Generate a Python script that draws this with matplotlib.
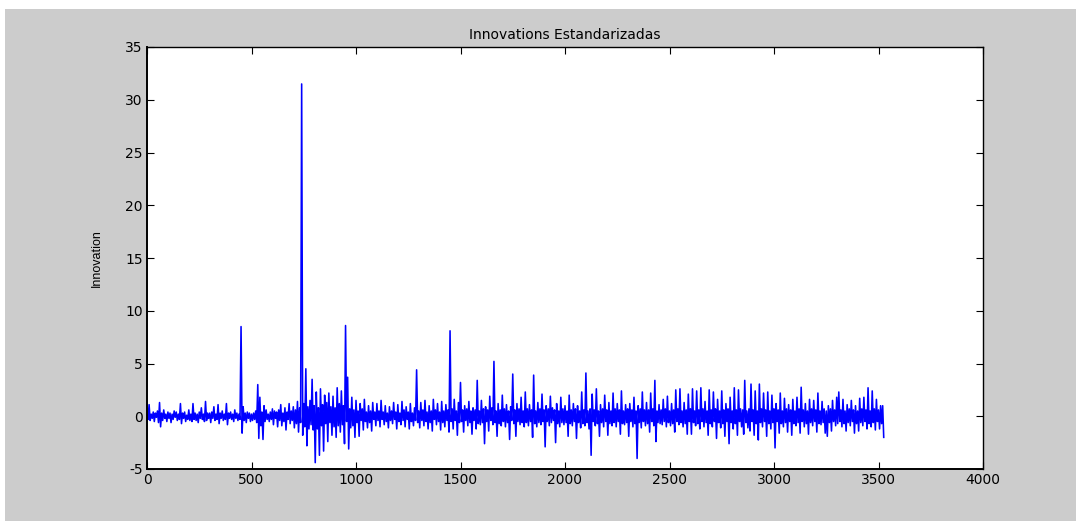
'''
innovations
-----------------------------------------------------------
standardized innovations plot (matlab look)
'''
# Load packages -------------------------------------------
import numpy as np
import matplotlib
matplotlib.use('Agg')
import matplotlib.pyplot as plt
from matplotlib.patches import Rectangle

# Data ----------------------------------------------------
# one value read every 5 observations (x = 0, 5, ... 3525)
obs_step = 5
innov = [
    0.1, -0.3, 1.1, -0.4, 0.2, -0.2, 0.4, -0.5, 0.3, -0.1, 0.5, -0.6, 1.3, -1.0, 0.3, -0.4, 0.6, -0.2, 0.2, -0.5,
    0.4, -0.2, 0.3, -0.6, 0.2, -0.3, 0.5, -0.1, 0.4, -0.4, 0.2, -0.3, 1.2, -0.7, 0.3, -0.2, 0.4, -0.5, 0.1, -0.3,
    0.6, -0.4, 0.2, -0.5, 1.2, -0.3, 0.3, -0.4, 0.2, -0.6, 0.4, -0.2, 0.8, -0.3, 0.2, -0.5, 1.4, -0.4, 0.3, -0.2,
    0.3, -0.6, 0.4, -0.2, 0.9, -0.4, 0.2, -0.3, 1.1, -0.7, 0.3, -0.2, 0.5, -0.4, 0.2, -0.3, 1.2, -0.8, 0.3, -0.2,
    0.4, -0.3, 0.2, -0.5, 0.6, -0.2, 0.3, -0.4, 0.2, -0.3, 8.5, -1.6, 0.9, -0.4, 0.3, -0.6, 0.4, -0.2, 0.3, -0.5,
    0.2, -0.4, 0.3, -0.3, 0.5, -0.6, 3.0, -2.1, 1.8, -0.9, 0.4, -2.2, 1.0, -0.5, 0.6, -0.3, 0.2, -0.5, 0.4, -0.3,
    0.7, -0.8, 0.5, -0.2, 0.4, -1.0, 0.6, -0.4, 1.1, -0.9, 0.3, -0.5, 0.8, -1.3, 0.4, -0.3, 1.2, -0.7, 0.5, -0.4,
    0.9, -1.1, 0.6, -0.7, 1.4, -1.5, 0.8, -0.6, 31.5, -1.8, 1.2, -1.0, 4.5, -2.8, 0.9, -1.2, 1.5, -0.8, 3.5, -1.3,
    1.0, -4.4, 2.3, -1.2, 0.8, -3.7, 2.6, -0.9, 1.1, -3.3, 2.0, -0.7, 1.3, -2.4, 2.2, -0.6, 0.9, -1.8, 1.9, -1.0,
    0.8, -2.0, 2.7, -0.9, 1.2, -1.5, 2.4, -0.8, 1.0, -2.6, 8.6, -0.5, 3.7, -3.1, 0.7, -1.1, 1.8, -0.9, 0.6, -2.0,
    1.5, -0.6, 0.5, -1.9, 1.2, -0.4, 0.7, -1.3, 1.6, -0.5, 0.4, -1.1, 1.0, -0.6, 0.5, -1.4, 1.3, -0.3, 0.4, -0.9,
    1.2, -0.4, 0.5, -1.0, 1.5, -0.3, 0.4, -0.8, 1.0, -0.5, 0.3, -1.1, 0.9, -0.4, 0.5, -0.7, 1.3, -0.3, 0.4, -1.2,
    1.1, -0.5, 0.3, -0.8, 1.4, -0.4, 0.6, -1.0, 0.9, -0.3, 0.4, -1.2, 1.2, -0.5, 0.3, -0.9, 0.8, -0.4, 4.4, -0.6,
    0.5, -1.1, 1.3, -0.4, 0.6, -0.9, 1.5, -0.5, 0.4, -1.2, 1.0, -0.6, 0.5, -1.4, 1.6, -0.3, 0.6, -0.8, 1.2, -0.5,
    0.4, -1.3, 1.4, -0.6, 0.5, -1.0, 1.1, -0.4, 0.6, -1.5, 8.1, -0.5, 0.7, -1.2, 1.6, -0.4, 0.5, -1.8, 1.3, -0.6,
    3.2, -0.5, 0.6, -1.5, 1.0, -0.4, 0.7, -0.9, 1.4, -0.6, 0.5, -1.7, 0.8, -0.4, 0.6, -1.2, 3.4, -0.7, 0.5, -0.8,
    1.5, -0.6, 0.7, -2.6, 0.9, -0.5, 0.6, -1.4, 1.9, -0.4, 0.8, -0.8, 5.2, -0.6, 0.5, -1.9, 1.2, -0.7, 0.6, -0.9,
    2.0, -0.5, 0.7, -1.0, 1.1, -0.6, 0.5, -2.2, 0.9, -0.4, 4.0, -0.7, 0.6, -1.9, 1.2, -0.5, 0.7, -0.8, 1.8, -0.6,
    0.5, -1.0, 2.3, -0.6, 0.7, -0.9, 1.1, -0.5, 0.6, -2.0, 3.9, -0.7, 0.5, -1.0, 1.3, -0.6, 0.7, -0.8, 2.1, -0.5,
    0.6, -2.9, 1.0, -0.5, 0.7, -0.9, 1.9, -0.6, 0.8, -0.4, 0.6, -2.5, 1.2, -0.7, 0.5, -1.0, 1.8, -0.6, 0.7, -0.8,
    1.0, -0.6, 0.5, -1.9, 2.0, -0.7, 0.6, -0.9, 1.2, -0.5, 0.7, -2.1, 1.0, -0.6, 0.5, -1.1, 2.3, -0.7, 0.6, -0.9,
    4.1, -0.6, 0.5, -1.2, 0.7, -3.7, 2.1, -0.5, 0.6, -0.9, 2.6, -0.7, 0.5, -1.9, 1.1, -0.6, 0.7, -1.0, 2.0, -0.5,
    0.6, -1.8, 1.3, -0.7, 0.5, -0.9, 2.2, -0.6, 0.7, -1.0, 1.2, -0.5, 0.6, -1.7, 2.4, -0.7, 0.5, -0.8, 1.1, -0.6,
    0.7, -1.9, 1.2, -0.5, 0.6, -1.0, 1.8, -0.7, 0.5, -4.0, 1.0, -0.6, 0.7, -1.1, 2.3, -0.5, 0.6, -0.9, 1.3, -0.7,
    0.6, -1.5, 2.2, -0.5, 0.7, -0.9, 3.4, -2.4, 0.5, -0.6, 1.1, -0.7, 0.6, -0.8, 1.6, -0.5, 0.7, -1.0, 1.9, -0.6,
    0.5, -0.9, 1.2, -0.7, 0.6, -1.5, 2.5, -0.5, 0.7, -0.8, 2.6, -0.6, 0.5, -1.0, 1.3, -0.7, 0.6, -1.7, 2.1, -0.5,
    0.7, -1.7, 2.6, -0.6, 0.5, -0.9, 2.4, -0.7, 0.6, -1.2, 2.7, -0.5, 0.7, -1.0, 1.4, -0.6, 0.5, -1.8, 2.5, -0.7,
    0.6, -1.0, 2.3, -0.5, 0.7, -2.1, 1.6, -0.6, 0.5, -1.1, 2.4, -0.7, 0.6, -1.9, 1.2, -0.5, 0.7, -2.6, 1.8, -0.6,
    0.5, -1.2, 2.7, -0.7, 0.6, -1.8, 2.5, -0.5, 0.7, -1.0, 0.6, -1.7, 3.4, -0.6, 0.5, -1.1, 0.7, -1.4, 3.05, -0.5,
    0.6, -1.8, 2.4, -0.7, 0.5, -2.25, 3.05, -0.6, 0.7, -1.0, 2.2, -0.5, 0.6, -1.9, 2.3, -0.7, 0.5, -1.2, 2.0, -0.6,
    0.7, -3.0, 1.2, -0.5, 0.6, -1.6, 2.2, -0.7, 0.5, -1.0, 1.7, -0.6, 0.7, -1.5, 1.1, -0.5, 0.6, -1.8, 1.6, -0.7,
    0.5, -0.9, 1.8, -0.6, 0.7, -1.6, 2.75, -0.5, 0.6, -1.0, 1.2, -0.7, 0.5, -1.7, 1.6, -0.6, 0.7, -0.9, 1.5, -0.5,
    0.6, -1.5, 2.2, -0.7, 0.5, -0.8, 1.4, -0.6, 0.7, -1.6, 0.5, -1.9, 1.0, -0.6, 0.7, -1.4, 1.5, -0.5, 0.6, -0.9,
    1.8, -0.7, 2.3, -0.5, 0.6, -1.0, 1.6, -0.7, 0.5, -1.4, 1.1, -0.6, 0.7, -0.9, 1.5, -0.5, 0.6, -1.6, 1.0, -0.7,
    0.5, -1.4, 1.7, -0.6, 0.7, -0.9, 1.8, -0.5, 0.6, -1.2, 2.7, -0.7, 0.5, -1.0, 2.4, -0.6, 0.7, -1.3, 1.6, -0.5,
    0.6, -1.2, 1.0, -0.7, 1.0, -2.0,
]

x_ticks = [0, 500, 1000, 1500, 2000, 2500, 3000, 3500, 4000]
y_ticks = [-5, 0, 5, 10, 15, 20, 25, 30, 35]

# Plot ----------------------------------------------------
plt.rcParams['font.family'] = ['DejaVu Sans']
plt.rcParams['axes.unicode_minus'] = False

fig = plt.figure(figsize=(10.76, 5.21), dpi=100, facecolor='white')

# gray matlab background, with thin white margin top/left
fig.patches.append(Rectangle((5 / 1076, 0), 1, 1 - 9 / 521,
                             transform=fig.transFigure,
                             facecolor='#cccccc', edgecolor='none',
                             zorder=-10))

ax = fig.add_axes([147 / 1076, 1 - 469 / 521,
                   (983 - 147) / 1076, (469 - 47) / 521])
ax.set_facecolor('white')

x = np.arange(len(innov)) * obs_step
ax.plot(x, innov, color='#0000ff', linewidth=1.15)

ax.set_xlim(0, 4000)
ax.set_ylim(-5, 35)
ax.set_xticks(x_ticks)
ax.set_yticks(y_ticks)
ax.tick_params(direction='in', length=5, width=0.8, labelsize=10,
               top=True, right=True, pad=3, colors='black')

for side in ['left', 'bottom']:
    ax.spines[side].set_linewidth(1.4)
for side in ['top', 'right']:
    ax.spines[side].set_linewidth(1.0)

ax.set_title('Innovations Estandarizadas', fontsize=10, pad=6)
ax.set_ylabel('Innovation', fontsize=9, family='Liberation Sans')
ax.yaxis.set_label_coords(-0.053, 0.5)

plt.savefig('out.png', dpi=100, facecolor=fig.get_facecolor())
